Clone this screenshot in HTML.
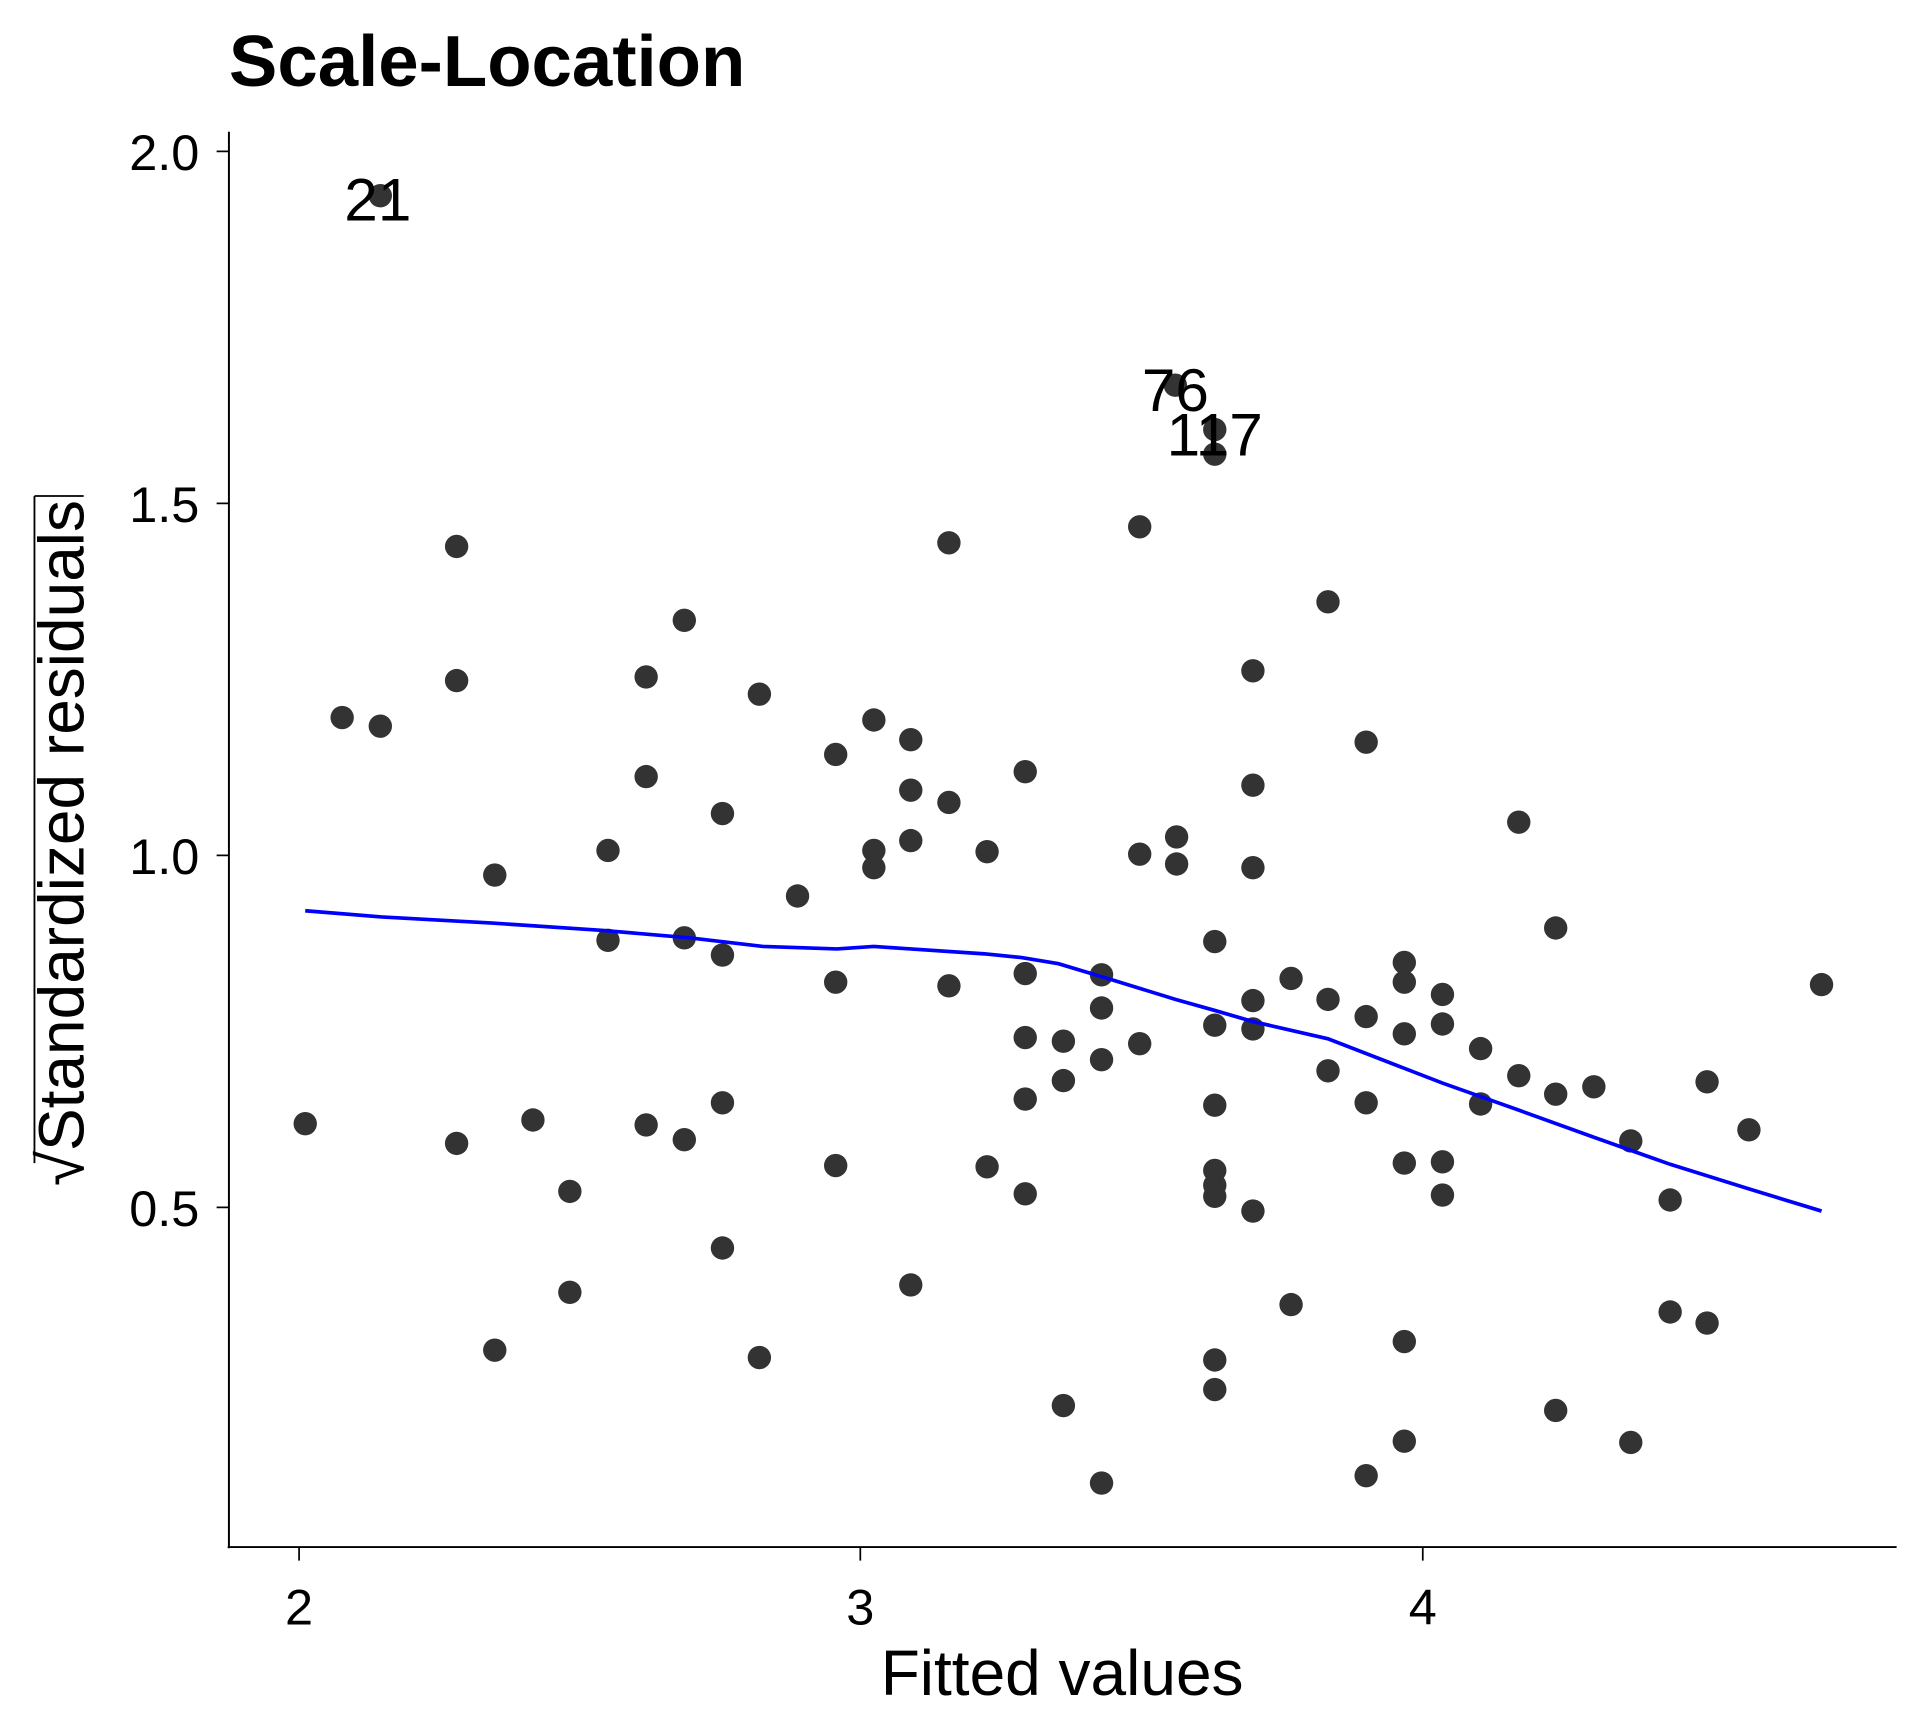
<!DOCTYPE html>
<html><head><style>html,body{margin:0;padding:0;background:#fff}svg{display:block}</style></head>
<body>
<svg width="1920" height="1728" viewBox="0 0 1560 1404" xmlns="http://www.w3.org/2000/svg" font-family="Liberation Sans, Arial, sans-serif">
<rect width="1560" height="1404" fill="#fff"/>
<text x="186" y="70" font-size="59" font-weight="bold">Scale-Location</text>
<line x1="186" y1="107" x2="186" y2="1258" stroke="#000" stroke-width="1.6"/>
<line x1="185" y1="1257" x2="1541" y2="1257" stroke="#000" stroke-width="1.6"/>
<g stroke="#000" stroke-width="1.4">
<line x1="176" y1="123" x2="186" y2="123"/><line x1="176" y1="409" x2="186" y2="409"/>
<line x1="176" y1="695" x2="186" y2="695"/><line x1="176" y1="981" x2="186" y2="981"/>
<line x1="243" y1="1257" x2="243" y2="1268"/><line x1="699" y1="1257" x2="699" y2="1268"/>
<line x1="1156" y1="1257" x2="1156" y2="1268"/>
</g>
<g font-size="41" text-anchor="end">
<text x="162" y="138">2.0</text><text x="162" y="424">1.5</text>
<text x="162" y="710">1.0</text><text x="162" y="996">0.5</text>
</g>
<g font-size="41" text-anchor="middle">
<text x="243" y="1320">2</text><text x="699" y="1320">3</text><text x="1156" y="1320">4</text>
</g>
<text x="863" y="1377" font-size="52" text-anchor="middle">Fitted values</text>
<g transform="translate(68,685) rotate(-90)">
<text x="0" y="0" font-size="52" text-anchor="middle">√Standardized residuals</text>
<line x1="-260" y1="-40" x2="282" y2="-40" stroke="#000" stroke-width="1.5"/>
<line x1="282" y1="-40" x2="282" y2="0" stroke="#000" stroke-width="1.5"/>
</g>
<g fill="#333">
<circle cx="309" cy="159" r="9.5"/><circle cx="955" cy="313" r="9.5"/><circle cx="987" cy="349" r="9.5"/><circle cx="987" cy="369" r="9.5"/><circle cx="926" cy="428" r="9.5"/><circle cx="771" cy="441" r="9.5"/><circle cx="371" cy="444" r="9.5"/><circle cx="1079" cy="489" r="9.5"/><circle cx="556" cy="504" r="9.5"/><circle cx="1018" cy="545" r="9.5"/><circle cx="525" cy="550" r="9.5"/><circle cx="371" cy="553" r="9.5"/><circle cx="617" cy="564" r="9.5"/><circle cx="278" cy="583" r="9.5"/><circle cx="309" cy="590" r="9.5"/><circle cx="710" cy="585" r="9.5"/><circle cx="740" cy="601" r="9.5"/><circle cx="1110" cy="603" r="9.5"/><circle cx="679" cy="613" r="9.5"/><circle cx="833" cy="627" r="9.5"/><circle cx="525" cy="631" r="9.5"/><circle cx="1018" cy="638" r="9.5"/><circle cx="740" cy="642" r="9.5"/><circle cx="771" cy="652" r="9.5"/><circle cx="587" cy="661" r="9.5"/><circle cx="1234" cy="668" r="9.5"/><circle cx="956" cy="680" r="9.5"/><circle cx="494" cy="691" r="9.5"/><circle cx="710" cy="691" r="9.5"/><circle cx="926" cy="694" r="9.5"/><circle cx="802" cy="692" r="9.5"/><circle cx="740" cy="683" r="9.5"/><circle cx="710" cy="705" r="9.5"/><circle cx="956" cy="702" r="9.5"/><circle cx="1018" cy="705" r="9.5"/><circle cx="402" cy="711" r="9.5"/><circle cx="648" cy="728" r="9.5"/><circle cx="1264" cy="754" r="9.5"/><circle cx="494" cy="764" r="9.5"/><circle cx="556" cy="762" r="9.5"/><circle cx="987" cy="765" r="9.5"/><circle cx="587" cy="776" r="9.5"/><circle cx="1141" cy="782" r="9.5"/><circle cx="1049" cy="795" r="9.5"/><circle cx="679" cy="798" r="9.5"/><circle cx="833" cy="791" r="9.5"/><circle cx="895" cy="792" r="9.5"/><circle cx="771" cy="801" r="9.5"/><circle cx="1141" cy="798" r="9.5"/><circle cx="1480" cy="800" r="9.5"/><circle cx="1172" cy="808" r="9.5"/><circle cx="1079" cy="812" r="9.5"/><circle cx="1018" cy="813" r="9.5"/><circle cx="895" cy="819" r="9.5"/><circle cx="1110" cy="826" r="9.5"/><circle cx="987" cy="833" r="9.5"/><circle cx="1172" cy="832" r="9.5"/><circle cx="1018" cy="836" r="9.5"/><circle cx="1141" cy="840" r="9.5"/><circle cx="833" cy="843" r="9.5"/><circle cx="864" cy="846" r="9.5"/><circle cx="926" cy="848" r="9.5"/><circle cx="1203" cy="852" r="9.5"/><circle cx="895" cy="861" r="9.5"/><circle cx="1079" cy="870" r="9.5"/><circle cx="864" cy="878" r="9.5"/><circle cx="1234" cy="874" r="9.5"/><circle cx="1295" cy="883" r="9.5"/><circle cx="1387" cy="879" r="9.5"/><circle cx="1264" cy="889" r="9.5"/><circle cx="833" cy="893" r="9.5"/><circle cx="1110" cy="896" r="9.5"/><circle cx="587" cy="896" r="9.5"/><circle cx="1203" cy="897" r="9.5"/><circle cx="987" cy="898" r="9.5"/><circle cx="248" cy="913" r="9.5"/><circle cx="433" cy="910" r="9.5"/><circle cx="525" cy="914" r="9.5"/><circle cx="556" cy="926" r="9.5"/><circle cx="371" cy="929" r="9.5"/><circle cx="1325" cy="927" r="9.5"/><circle cx="1421" cy="918" r="9.5"/><circle cx="679" cy="947" r="9.5"/><circle cx="802" cy="948" r="9.5"/><circle cx="1141" cy="945" r="9.5"/><circle cx="1172" cy="944" r="9.5"/><circle cx="987" cy="951" r="9.5"/><circle cx="987" cy="963" r="9.5"/><circle cx="463" cy="968" r="9.5"/><circle cx="987" cy="972" r="9.5"/><circle cx="833" cy="970" r="9.5"/><circle cx="1357" cy="975" r="9.5"/><circle cx="1172" cy="971" r="9.5"/><circle cx="1018" cy="984" r="9.5"/><circle cx="587" cy="1014" r="9.5"/><circle cx="740" cy="1044" r="9.5"/><circle cx="463" cy="1050" r="9.5"/><circle cx="1049" cy="1060" r="9.5"/><circle cx="1357" cy="1066" r="9.5"/><circle cx="1387" cy="1075" r="9.5"/><circle cx="1141" cy="1090" r="9.5"/><circle cx="402" cy="1097" r="9.5"/><circle cx="617" cy="1103" r="9.5"/><circle cx="987" cy="1105" r="9.5"/><circle cx="987" cy="1129" r="9.5"/><circle cx="864" cy="1142" r="9.5"/><circle cx="1264" cy="1146" r="9.5"/><circle cx="1141" cy="1171" r="9.5"/><circle cx="1325" cy="1172" r="9.5"/><circle cx="1110" cy="1199" r="9.5"/><circle cx="895" cy="1205" r="9.5"/>
</g>
<polyline fill="none" stroke="#0000ff" stroke-width="3" points="248,740 310,745 400,750 490,756 560,762 620,769 680,771 710,769 740,771 800,775 830,778 860,783 900,795 955,812 987,821 1018,830 1079,844 1141,868 1172,880 1234,902 1295,924 1357,946 1421,966 1480,984"/>
<g font-size="49" text-anchor="middle">
<text x="307" y="179">21</text><text x="955" y="334">76</text><text x="987" y="370">117</text>
</g>
</svg>
</body></html>
